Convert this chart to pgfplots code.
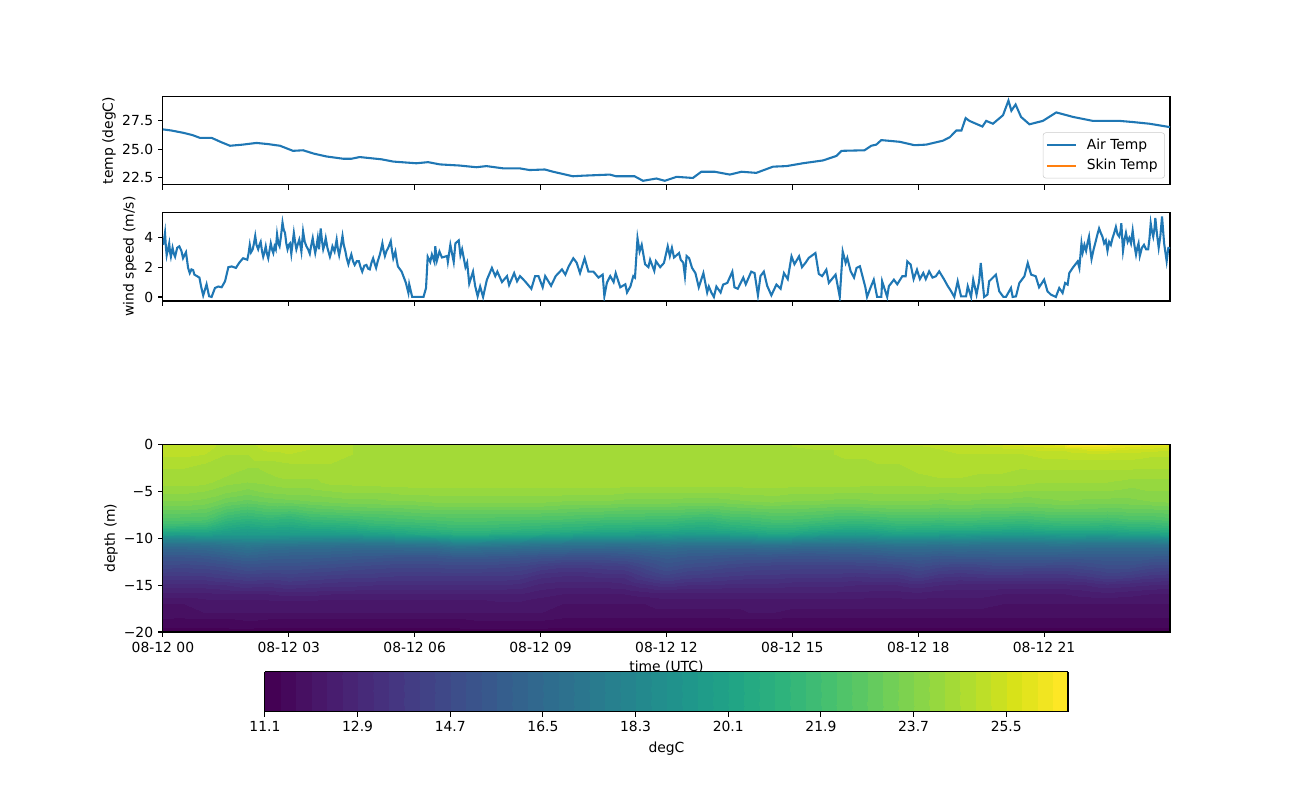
\documentclass[border=0pt]{standalone}
\usepackage{fontspec}
\setmainfont{DejaVu Sans}
\usepackage{pgfplots}
\pgfplotsset{compat=1.18}
\usepgfplotslibrary{colormaps}
\definecolor{cblue}{HTML}{1F77B4}
\definecolor{corange}{HTML}{FF7F0E}
\pgfplotsset{
  /pgf/number format/assume math mode=true,
  mpl/.style={
    scale only axis, width=725.1pt,
    xmin=0, xmax=24,
    xtick={0,3,...,21},
    tick align=outside, xtick pos=bottom, ytick pos=left,
    major tick length=3.5pt,
    every tick/.style={black,line width=0.8pt},
    axis line style={line width=0.8pt},
    tick label style={font=\fontsize{10}{12}\selectfont},
    label style={font=\fontsize{10}{12}\selectfont},
  },
}
\begin{document}
\begin{tikzpicture}
\path[use as bounding box] (0,0) rectangle (936pt,576pt);

\begin{axis}[mpl, at={(117.3pt,442.9pt)}, anchor=south west, height=63.7pt,
    xticklabels={},
    ymin=21.84, ymax=29.67,
    ytick={22.5,25,27.5},
    yticklabel style={/pgf/number format/fixed,/pgf/number format/fixed zerofill,/pgf/number format/precision=1},
    ylabel={temp (degC)},
    every axis y label/.style={at={(axis description cs:-0.0536,0.5)},rotate=90,anchor=center},
    legend style={at={(0.995,0.073)},anchor=south east,draw=black!20,rounded corners=2pt,fill opacity=0.8,text opacity=1,font=\fontsize{10}{12}\selectfont,row sep=1.5pt,inner xsep=2pt,inner ysep=2.5pt,nodes={inner xsep=3pt}},
    legend cell align=left,
    legend image code/.code={\draw[#1,line width=1.5pt] (0pt,0pt) -- (21pt,0pt); \path (25pt,0pt);},
]
\addplot[cblue,line width=1.5pt,no markers] coordinates {
(0,26.75)(0.2,26.65)(0.48,26.45)(0.7,26.25)(0.88,26.0)(1.16,26.0)(1.4,25.6)(1.6,25.3)(1.9,25.4)(2.23,25.55)(2.5,25.45)(2.79,25.3)(3.1,24.85)(3.34,24.9)(3.6,24.6)(3.9,24.35)(4.3,24.15)(4.49,24.15)(4.69,24.3)(5.21,24.1)(5.49,23.9)(6.04,23.75)(6.32,23.85)(6.6,23.65)(7.07,23.55)(7.47,23.4)(7.71,23.5)(8.11,23.3)(8.5,23.3)(8.74,23.15)(9.1,23.2)(9.3,23.0)(9.77,22.6)(10.0,22.65)(10.65,22.75)(10.8,22.6)(11.24,22.6)(11.44,22.2)(11.76,22.4)(11.96,22.2)(12.24,22.55)(12.63,22.45)(12.83,23.0)(13.15,23.0)(13.51,22.75)(13.79,23.0)(14.14,22.9)(14.54,23.45)(14.86,23.5)(15.25,23.75)(15.73,24.0)(16.05,24.4)(16.17,24.85)(16.72,24.9)(16.88,25.3)(17.0,25.4)(17.12,25.8)(17.56,25.65)(17.91,25.35)(18.19,25.4)(18.59,25.75)(18.75,26.05)(18.91,26.65)(19.03,26.65)(19.13,27.75)(19.22,27.5)(19.53,27.0)(19.62,27.5)(19.78,27.25)(20.02,28.0)(20.15,29.3)(20.22,28.4)(20.32,28.95)(20.45,27.85)(20.65,27.2)(20.97,27.5)(21.29,28.25)(21.69,27.85)(22.16,27.5)(22.8,27.5)(23.11,27.4)(23.51,27.25)(24,26.95)
};
\addlegendentry{Air Temp}
\addlegendimage{corange}
\addlegendentry{Skin Temp}
\end{axis}

\begin{axis}[mpl, at={(117.3pt,359.3pt)}, anchor=south west, height=64pt,
    xticklabels={},
    ymin=-0.27, ymax=5.7,
    ytick={0,2,4},
    ylabel={wind speed (m/s)},
    every axis y label/.style={at={(axis description cs:-0.0328,0.5)},rotate=90,anchor=center},
]
\addplot[cblue,line width=1.5pt,no markers] coordinates {
(0,3.5)(0.03,3.9)(0.05,4.3)(0.07,3.4)(0.09,2.8)(0.12,3.2)(0.15,3.6)(0.17,3.0)(0.19,2.7)(0.23,3.3)(0.26,2.9)(0.29,2.7)(0.34,3.3)(0.39,3.4)(0.44,3.1)(0.48,2.6)(0.55,3.0)(0.6,1.95)(0.64,1.6)(0.68,1.85)(0.72,1.8)(0.75,1.5)(0.78,1.45)(0.87,1.3)(0.91,0.7)(0.96,0.1)(1.04,0.85)(1.1,0.05)(1.16,0)(1.24,0.6)(1.32,0.7)(1.4,0.65)(1.48,1.05)(1.56,2.0)(1.64,2.05)(1.74,1.95)(1.82,2.3)(1.91,2.6)
(2.01,2.5)(2.04,2.9)(2.07,3.5)(2.1,3.0)(2.14,3.2)(2.17,3.6)(2.2,4.1)(2.23,3.5)(2.27,3.2)(2.3,3.5)(2.33,3.7)(2.36,3.1)(2.39,2.7)(2.42,3.0)(2.45,3.4)(2.48,2.9)(2.51,2.6)(2.54,3.1)(2.57,3.6)(2.6,3.2)(2.63,2.95)(2.66,3.4)(2.69,3.2)(2.72,4.2)(2.75,3.6)(2.78,3.4)(2.81,4.0)(2.85,5.0)(2.88,4.5)(2.91,4.3)(2.94,3.6)(2.97,3.2)(3.0,3.5)(3.03,3.6)(3.06,2.9)(3.09,3.6)(3.12,4.3)(3.15,3.7)(3.18,3.2)(3.21,3.5)(3.25,3.85)(3.28,3.4)(3.3,3.05)(3.34,4.4)(3.38,3.7)(3.42,3.4)(3.46,3.2)(3.5,2.9)(3.53,3.4)(3.57,3.95)(3.6,3.4)(3.63,2.95)(3.66,3.4)(3.69,3.95)(3.72,3.2)(3.76,4.6)(3.79,3.8)(3.82,3.2)(3.85,3.5)(3.88,3.95)(3.92,3.3)(3.98,2.7)(4.01,3.0)(4.04,3.4)(4.09,3.05)(4.14,3.85)(4.17,3.2)(4.2,2.8)(4.24,3.4)(4.28,4.1)(4.31,3.5)(4.35,3.05)(4.38,2.6)(4.42,2.2)(4.45,2.5)(4.49,2.85)(4.53,2.4)(4.57,2.15)(4.62,2.4)(4.67,2.4)(4.71,2.0)(4.75,1.7)(4.8,2.1)(4.85,2.15)(4.89,1.9)(4.93,1.85)(4.97,2.3)(5.01,2.6)(5.05,2.2)(5.08,1.95)(5.12,2.4)(5.17,2.85)(5.2,3.2)(5.23,3.6)(5.26,3.1)(5.29,2.75)(5.33,3.1)(5.37,3.3)(5.43,3.75)(5.46,3.1)(5.49,2.6)(5.54,3.05)(5.57,2.5)(5.6,2.05)(5.69,1.7)(5.79,0.95)(5.85,0.27)(5.87,0.85)(5.94,0)
(6.21,0)(6.27,0.6)(6.31,2.7)(6.37,2.35)(6.41,2.85)(6.47,2.35)(6.49,3.4)(6.53,2.45)(6.59,3.05)(6.65,2.65)(6.77,2.75)(6.79,2.35)(6.85,3.5)(6.93,2.35)(6.97,3.6)(7.05,3.8)(7.09,2.8)(7.13,3.2)(7.21,2.0)(7.25,2.3)(7.3,0.9)(7.39,1.7)(7.44,0.75)(7.5,0.05)(7.56,0.7)(7.63,0)(7.72,1.15)(7.84,1.95)(7.92,1.4)(7.97,1.7)(8.08,1.0)(8.2,1.4)(8.25,0.8)(8.37,1.6)(8.44,1.05)(8.51,1.4)(8.63,1.05)(8.78,0.55)(8.87,1.4)(8.95,1.4)(9.05,0.65)(9.11,1.4)(9.25,0.75)(9.36,1.4)(9.51,1.85)(9.59,1.5)(9.67,2.05)(9.78,2.6)(9.86,2.3)(9.94,1.6)(10.05,2.6)(10.14,1.7)(10.26,1.7)(10.38,1.3)(10.48,1.5)(10.52,0.05)(10.58,0.95)(10.66,1.4)(10.74,1.0)(10.79,1.6)(10.9,0.65)(11.02,0.85)(11.06,0.3)(11.14,0.7)(11.21,1.4)(11.25,1.3)(11.31,3.95)(11.36,3.05)(11.41,3.5)(11.49,2.2)(11.57,2.0)(11.61,2.5)(11.71,1.75)(11.75,2.4)(11.85,2.0)(11.94,2.28)(12.03,3.4)
(12.08,2.75)(12.13,3.3)(12.18,2.65)(12.3,2.95)(12.34,2.5)(12.4,2.3)(12.44,1.4)(12.48,2.75)(12.54,2.6)(12.61,1.95)(12.69,1.6)(12.77,0.65)(12.88,1.6)(12.97,0.3)(13.01,0.7)(13.07,0.3)(13.13,0)(13.19,0.7)(13.29,0.3)(13.35,0.83)(13.45,0.94)(13.57,1.7)(13.62,0.65)(13.7,0.55)(13.83,1.3)(13.89,0.85)(14.02,1.7)(14.1,1.6)(14.18,0.11)(14.24,1.4)(14.32,1.7)(14.4,0.75)(14.5,0.11)(14.62,0.83)(14.72,0.55)(14.8,1.6)(14.89,1.2)(14.98,2.73)(15.05,2.2)(15.16,2.73)(15.23,2.0)(15.31,2.28)(15.39,2.62)(15.55,2.95)(15.63,1.55)(15.71,1.4)(15.81,1.83)(15.87,0.95)(16.03,1.5)(16.13,0)(16.2,3.06)(16.27,2.28)(16.31,2.62)(16.39,1.72)(16.47,1.3)(16.53,1.95)(16.61,2.06)(16.74,0.65)(16.78,0)(16.86,0.6)(16.94,1.16)(17.02,0)(17.12,0)(17.14,1.05)(17.26,0)(17.3,0.72)(17.42,1.16)(17.5,0.85)(17.62,1.39)(17.7,1.39)(17.74,2.39)(17.82,2.17)(17.89,1.2)(17.97,1.83)
(18.04,1.2)(18.12,1.61)(18.18,1.2)(18.26,1.72)(18.34,1.3)(18.42,1.39)(18.5,1.72)(18.62,1.16)(18.7,0.75)(18.78,0.4)(18.86,0)(18.94,1.05)(19.02,0.04)(19.14,0.04)(19.18,0.72)(19.26,0)(19.31,1.16)(19.39,0.16)(19.45,1.05)(19.49,2.28)(19.57,0)(19.65,0.16)(19.69,1.05)(19.85,1.5)(19.93,0.38)(20.03,0)(20.09,0)(20.21,0.6)(20.25,0)(20.33,0.04)(20.41,0.94)(20.53,1.39)(20.61,2.28)(20.69,1.5)(20.8,1.39)(20.88,0.65)(21,1.16)(21.08,0.38)(21.16,0.16)(21.28,0)(21.36,0.6)(21.44,0.27)(21.5,0.94)(21.56,0.83)(21.6,1.61)(21.68,1.95)(21.8,2.39)(21.84,1.95)
(21.89,3.6)(21.92,3.0)(21.96,3.5)(22,3.1)(22.04,3.7)(22.07,4.05)(22.1,3.2)(22.13,2.55)(22.18,3.2)(22.23,3.74)(22.27,4.2)(22.31,4.6)(22.35,4.3)(22.39,4.05)(22.43,3.6)(22.47,3.8)(22.51,3.1)(22.55,3.7)(22.59,3.5)(22.63,3.95)(22.67,4.3)(22.71,4.7)(22.75,4.2)(22.79,4.05)(22.82,4.4)(22.84,4.95)(22.86,4.0)(22.88,3.1)(22.92,3.9)(22.95,4.3)(22.99,3.7)(23.03,3.96)(23.07,3.6)(23.11,4.45)(23.15,3.5)(23.19,2.85)(23.22,3.3)(23.25,3.6)(23.28,2.75)(23.33,3.3)(23.38,3.5)(23.43,3.2)(23.48,3.2)(23.51,3.9)(23.54,4.95)(23.57,4.4)(23.6,4.05)(23.63,4.6)(23.65,5.3)(23.69,4.2)(23.73,3.3)(23.77,4.1)(23.81,5.4)(23.84,4.3)(23.86,3.6)(23.89,3.0)(23.92,2.4)(23.96,3.29)(24,3.29)
};
\end{axis}

\begin{axis}[mpl, at={(117.3pt,121pt)}, anchor=south west, height=135pt,
    axis on top,
    declare function={lvl(\i)=0.5*min(\i,2)+max(min(\i,9)-2,0)+0.5*max(min(\i,15)-9,0)+max(\i-15,0);},
    xticklabels={08-12 00,08-12 03,08-12 06,08-12 09,08-12 12,08-12 15,08-12 18,08-12 21},
    ymin=-20, ymax=0,
    ytick={-20,-15,-10,-5,0},
    yticklabels={−20,−15,−10,−5,0},
    xlabel={time (UTC)},
    every axis x label/.style={at={(axis description cs:0.5,-0.186)},anchor=center},
    ylabel={depth (m)},
    every axis y label/.style={at={(axis description cs:-0.0516,0.5)},rotate=90,anchor=center},
    colormap={hm}{samples of colormap=(52 of viridis)},
    colormap access=piecewise constant,
    point meta min=11.1, point meta max=26.7,
    colorbar horizontal,
    colorbar style={
      at={(0.1013,-0.2128)}, anchor=north west,
      scale only axis, width=578.2pt, height=28.8pt,
      xtick={11.1,12.9,14.7,16.5,18.3,20.1,21.9,23.7,25.5},
      tick align=outside, xtick pos=bottom, ytick=\empty,
      xticklabel style={/pgf/number format/fixed,/pgf/number format/fixed zerofill,/pgf/number format/precision=1,font=\fontsize{10}{12}\selectfont},
      xlabel={degC},
      xlabel style={font=\fontsize{10}{12}\selectfont},
      major tick length=3.5pt,
      every tick/.style={black,line width=0.8pt},
      axis line style={line width=0.8pt},
    },
]
% one line per half hour, depths 0,-0.5,-1,-2,...,-8,-8.5,...,-11,-12,...,-20
\addplot[surf,shader=interp,mesh/ordering=y varies,mesh/rows=25,mesh/cols=49,point meta=explicit]
 table[row sep=crcr,header=false,
   x expr={floor(\coordindex/25)/2},
   y expr={-lvl(mod(\coordindex,25))},
   meta index=0] {
25.1\\25.1\\25.0\\24.7\\24.5\\24.4\\24.1\\23.7\\23.1\\22.4\\21.9\\21.0\\19.9\\18.5\\17.2\\16.3\\15.3\\14.6\\13.8\\13.1\\12.5\\12.0\\12.0\\11.5\\11.3\\
25.1\\25.1\\25.0\\24.7\\24.5\\24.4\\24.1\\23.7\\23.1\\22.3\\21.8\\20.9\\19.8\\18.5\\17.2\\16.3\\15.3\\14.5\\13.8\\13.1\\12.5\\12.0\\11.9\\11.5\\11.3\\
25.0\\25.0\\24.9\\24.6\\24.5\\24.4\\24.0\\23.6\\23.0\\22.3\\21.7\\20.9\\19.9\\18.7\\17.3\\16.4\\15.4\\14.6\\13.8\\13.1\\12.5\\12.1\\12.0\\11.5\\11.3\\
24.8\\24.7\\24.6\\24.5\\24.4\\24.1\\23.8\\23.2\\22.4\\21.5\\20.9\\20.3\\19.6\\18.7\\17.5\\16.7\\15.7\\14.8\\14.0\\13.2\\12.6\\12.1\\12.0\\11.5\\11.3\\
24.8\\24.7\\24.6\\24.5\\24.1\\24.0\\23.6\\23.0\\22.1\\21.2\\20.6\\20.0\\19.5\\18.8\\17.7\\17.0\\16.0\\15.1\\14.2\\13.4\\12.6\\12.1\\12.0\\11.6\\11.3\\
25.1\\25.0\\24.8\\24.5\\24.3\\24.1\\23.8\\23.2\\22.4\\21.4\\20.9\\20.2\\19.6\\18.7\\17.5\\16.7\\15.8\\15.0\\14.1\\13.3\\12.6\\12.1\\12.0\\11.5\\11.3\\
25.1\\25.0\\24.9\\24.6\\24.5\\24.2\\23.9\\23.3\\22.3\\21.2\\20.7\\20.1\\19.6\\18.6\\17.5\\16.6\\15.7\\15.0\\14.2\\13.5\\12.7\\12.1\\12.0\\11.5\\11.3\\
24.9\\24.9\\24.8\\24.6\\24.5\\24.2\\23.9\\23.4\\22.6\\21.6\\21.0\\20.3\\19.6\\18.6\\17.4\\16.6\\15.7\\14.9\\14.1\\13.4\\12.7\\12.1\\12.0\\11.5\\11.3\\
24.7\\24.7\\24.7\\24.6\\24.5\\24.4\\24.0\\23.5\\22.7\\21.7\\21.1\\20.4\\19.6\\18.5\\17.3\\16.5\\15.6\\14.8\\14.0\\13.3\\12.6\\12.1\\12.0\\11.5\\11.3\\
24.6\\24.6\\24.6\\24.5\\24.5\\24.4\\24.1\\23.6\\22.8\\21.8\\21.2\\20.5\\19.7\\18.5\\17.2\\16.4\\15.5\\14.7\\13.9\\13.3\\12.6\\12.1\\12.0\\11.5\\11.3\\
24.5\\24.5\\24.5\\24.5\\24.5\\24.4\\24.1\\23.6\\22.9\\22.0\\21.5\\20.8\\19.9\\18.7\\17.3\\16.4\\15.4\\14.6\\13.9\\13.2\\12.6\\12.1\\12.0\\11.5\\11.3\\
24.5\\24.5\\24.5\\24.5\\24.5\\24.5\\24.1\\23.7\\22.9\\22.1\\21.6\\20.9\\20.1\\18.9\\17.4\\16.4\\15.3\\14.5\\13.8\\13.2\\12.6\\12.1\\12.0\\11.5\\11.3\\
24.5\\24.5\\24.5\\24.5\\24.5\\24.5\\24.2\\23.7\\23.0\\22.2\\21.7\\21.1\\20.4\\19.1\\17.5\\16.5\\15.3\\14.5\\13.8\\13.2\\12.6\\12.1\\12.0\\11.5\\11.3\\
24.5\\24.5\\24.5\\24.5\\24.5\\24.5\\24.2\\23.8\\23.1\\22.3\\21.8\\21.3\\20.5\\19.2\\17.6\\16.5\\15.3\\14.5\\13.8\\13.2\\12.6\\12.1\\12.0\\11.5\\11.3\\
24.5\\24.5\\24.5\\24.5\\24.5\\24.5\\24.2\\23.8\\23.1\\22.4\\22.0\\21.5\\20.8\\19.7\\18.1\\16.9\\15.5\\14.6\\13.8\\13.2\\12.6\\12.1\\12.0\\11.5\\11.3\\
24.5\\24.5\\24.5\\24.5\\24.5\\24.5\\24.2\\23.8\\23.1\\22.4\\22.0\\21.5\\20.8\\19.6\\18.0\\16.8\\15.5\\14.6\\13.8\\13.2\\12.6\\12.1\\12.0\\11.6\\11.3\\
24.5\\24.5\\24.5\\24.5\\24.5\\24.5\\24.2\\23.8\\23.1\\22.3\\21.9\\21.4\\20.6\\19.5\\17.9\\16.7\\15.4\\14.5\\13.8\\13.2\\12.6\\12.2\\12.0\\11.6\\11.3\\
24.5\\24.5\\24.5\\24.5\\24.5\\24.5\\24.2\\23.8\\23.1\\22.3\\21.8\\21.3\\20.5\\19.3\\17.7\\16.6\\15.3\\14.4\\13.7\\13.1\\12.6\\12.2\\12.0\\11.6\\11.3\\
24.5\\24.5\\24.5\\24.5\\24.5\\24.5\\24.2\\23.8\\23.1\\22.2\\21.7\\21.2\\20.4\\19.1\\17.5\\16.5\\15.1\\14.1\\13.3\\12.8\\12.4\\12.1\\12.0\\11.6\\11.3\\
24.5\\24.5\\24.5\\24.5\\24.5\\24.5\\24.2\\23.7\\23.0\\22.2\\21.6\\21.1\\20.2\\19.0\\17.4\\16.4\\15.0\\13.9\\13.2\\12.7\\12.3\\12.0\\11.9\\11.5\\11.3\\
24.5\\24.5\\24.5\\24.5\\24.5\\24.5\\24.2\\23.7\\22.9\\22.1\\21.5\\21.0\\20.0\\18.8\\17.3\\16.3\\15.0\\13.9\\13.2\\12.7\\12.3\\12.0\\11.9\\11.5\\11.3\\
24.5\\24.5\\24.5\\24.5\\24.5\\24.5\\24.2\\23.7\\22.9\\22.0\\21.4\\20.8\\19.9\\18.8\\17.3\\16.3\\15.0\\14.0\\13.3\\12.7\\12.3\\12.0\\11.9\\11.5\\11.3\\
24.5\\24.5\\24.5\\24.5\\24.5\\24.5\\24.1\\23.6\\22.8\\22.0\\21.4\\20.8\\19.9\\18.7\\17.2\\16.3\\15.1\\14.1\\13.3\\12.8\\12.3\\12.0\\11.9\\11.5\\11.3\\
24.5\\24.5\\24.5\\24.5\\24.5\\24.5\\24.1\\23.6\\22.8\\21.9\\21.3\\20.6\\19.7\\18.6\\17.3\\16.4\\15.4\\14.6\\13.9\\13.1\\12.4\\12.0\\11.9\\11.5\\11.3\\
24.5\\24.5\\24.5\\24.5\\24.5\\24.5\\24.1\\23.6\\22.8\\21.9\\21.3\\20.7\\19.8\\18.7\\17.5\\16.6\\15.7\\15.1\\14.3\\13.4\\12.5\\12.1\\11.9\\11.5\\11.3\\
24.5\\24.5\\24.5\\24.5\\24.5\\24.5\\24.1\\23.5\\22.7\\21.7\\21.1\\20.5\\19.6\\18.5\\17.3\\16.4\\15.5\\14.8\\14.0\\13.2\\12.5\\12.1\\11.9\\11.5\\11.3\\
24.5\\24.5\\24.5\\24.5\\24.5\\24.5\\24.1\\23.5\\22.6\\21.6\\21.0\\20.5\\19.7\\18.6\\17.3\\16.4\\15.4\\14.7\\13.9\\13.2\\12.5\\12.1\\11.9\\11.5\\11.3\\
24.5\\24.5\\24.5\\24.5\\24.5\\24.5\\24.1\\23.6\\22.8\\21.9\\21.3\\20.7\\19.8\\18.6\\17.3\\16.3\\15.3\\14.5\\13.8\\13.1\\12.5\\12.1\\11.9\\11.5\\11.3\\
24.5\\24.5\\24.5\\24.5\\24.5\\24.5\\24.2\\23.7\\22.9\\22.0\\21.5\\20.9\\20.0\\18.8\\17.4\\16.3\\15.2\\14.4\\13.7\\13.1\\12.5\\12.1\\12.0\\11.5\\11.3\\
24.5\\24.5\\24.5\\24.5\\24.5\\24.5\\24.2\\23.8\\23.0\\22.2\\21.7\\21.1\\20.3\\19.1\\17.5\\16.4\\15.2\\14.3\\13.7\\13.1\\12.5\\12.1\\12.0\\11.5\\11.3\\
24.6\\24.5\\24.5\\24.5\\24.5\\24.5\\24.1\\23.7\\23.0\\22.2\\21.7\\21.1\\20.2\\18.9\\17.4\\16.3\\15.1\\14.3\\13.6\\13.0\\12.5\\12.1\\11.9\\11.5\\11.3\\
24.7\\24.6\\24.5\\24.5\\24.5\\24.5\\24.1\\23.7\\22.9\\22.1\\21.5\\20.8\\19.9\\18.6\\17.2\\16.2\\15.1\\14.3\\13.6\\13.0\\12.5\\12.1\\11.9\\11.5\\11.3\\
24.7\\24.6\\24.6\\24.5\\24.5\\24.5\\24.1\\23.6\\22.8\\21.9\\21.3\\20.6\\19.6\\18.5\\17.3\\16.3\\15.2\\14.3\\13.6\\13.0\\12.5\\12.1\\11.9\\11.5\\11.3\\
24.8\\24.7\\24.7\\24.5\\24.5\\24.5\\24.1\\23.6\\22.8\\21.8\\21.2\\20.5\\19.5\\18.4\\17.2\\16.3\\15.2\\14.3\\13.5\\12.9\\12.5\\12.1\\11.9\\11.5\\11.3\\
24.7\\24.7\\24.7\\24.6\\24.5\\24.4\\24.1\\23.7\\22.9\\21.9\\21.3\\20.6\\19.7\\18.6\\17.4\\16.4\\15.3\\14.4\\13.6\\12.9\\12.4\\12.1\\11.9\\11.5\\11.3\\
24.8\\24.8\\24.7\\24.6\\24.5\\24.4\\24.1\\23.7\\23.0\\22.1\\21.5\\20.9\\20.0\\18.8\\17.5\\16.6\\15.5\\14.5\\13.6\\12.9\\12.4\\12.1\\11.9\\11.5\\11.3\\
24.9\\24.8\\24.8\\24.7\\24.6\\24.4\\24.1\\23.7\\23.0\\22.1\\21.5\\20.8\\19.9\\18.7\\17.5\\16.6\\15.6\\14.8\\14.0\\13.1\\12.5\\12.1\\11.9\\11.5\\11.3\\
25.0\\24.9\\24.8\\24.7\\24.7\\24.5\\24.1\\23.6\\22.9\\22.0\\21.4\\20.8\\19.8\\18.6\\17.4\\16.5\\15.4\\14.5\\13.6\\12.9\\12.4\\12.1\\11.9\\11.5\\11.3\\
25.1\\25.0\\24.9\\24.8\\24.7\\24.5\\24.1\\23.7\\23.0\\22.1\\21.5\\20.8\\19.8\\18.7\\17.5\\16.6\\15.5\\14.4\\13.5\\12.8\\12.4\\12.1\\11.9\\11.5\\11.3\\
25.2\\25.1\\24.9\\24.7\\24.6\\24.5\\24.1\\23.6\\22.9\\22.0\\21.4\\20.7\\19.7\\18.6\\17.4\\16.5\\15.5\\14.5\\13.6\\12.8\\12.4\\12.1\\11.9\\11.5\\11.3\\
25.3\\25.1\\24.9\\24.7\\24.6\\24.4\\24.1\\23.6\\22.9\\21.9\\21.3\\20.6\\19.6\\18.5\\17.4\\16.6\\15.6\\14.7\\13.7\\12.8\\12.3\\12.0\\11.9\\11.5\\11.3\\
25.6\\25.2\\24.9\\24.7\\24.5\\24.4\\24.0\\23.5\\22.8\\21.8\\21.2\\20.5\\19.5\\18.5\\17.4\\16.6\\15.6\\14.6\\13.6\\12.8\\12.3\\12.0\\11.9\\11.5\\11.3\\
25.8\\25.3\\25.0\\24.8\\24.5\\24.3\\24.0\\23.6\\22.9\\22.0\\21.4\\20.7\\19.7\\18.6\\17.4\\16.6\\15.6\\14.6\\13.6\\12.8\\12.3\\12.0\\11.9\\11.5\\11.3\\
26.0\\25.3\\25.0\\24.8\\24.5\\24.3\\24.0\\23.7\\23.0\\22.1\\21.5\\20.8\\19.8\\18.7\\17.5\\16.6\\15.5\\14.5\\13.6\\12.8\\12.3\\12.0\\11.9\\11.5\\11.3\\
26.6\\25.6\\25.1\\24.8\\24.5\\24.3\\24.0\\23.6\\23.0\\22.1\\21.5\\20.8\\19.8\\18.6\\17.3\\16.5\\15.5\\14.7\\13.8\\12.9\\12.4\\12.0\\11.9\\11.5\\11.3\\
26.6\\25.7\\25.1\\24.8\\24.5\\24.3\\24.0\\23.6\\22.9\\22.0\\21.4\\20.7\\19.7\\18.6\\17.3\\16.5\\15.6\\14.9\\14.1\\13.1\\12.5\\12.0\\11.9\\11.5\\11.3\\
26.4\\25.5\\25.1\\24.8\\24.5\\24.2\\23.9\\23.6\\23.0\\22.2\\21.6\\20.9\\19.9\\18.7\\17.4\\16.5\\15.6\\14.9\\14.0\\13.0\\12.4\\12.0\\11.9\\11.5\\11.3\\
26.1\\25.4\\25.0\\24.7\\24.5\\24.2\\24.0\\23.7\\23.0\\22.2\\21.6\\21.0\\20.0\\18.8\\17.4\\16.5\\15.5\\14.6\\13.7\\12.9\\12.3\\12.0\\11.9\\11.5\\11.3\\
25.9\\25.3\\25.0\\24.7\\24.5\\24.2\\24.0\\23.8\\23.1\\22.4\\21.8\\21.2\\20.2\\18.9\\17.5\\16.5\\15.4\\14.5\\13.6\\12.8\\12.3\\12.0\\11.9\\11.5\\11.3\\
};
\end{axis}
\end{tikzpicture}
\end{document}
